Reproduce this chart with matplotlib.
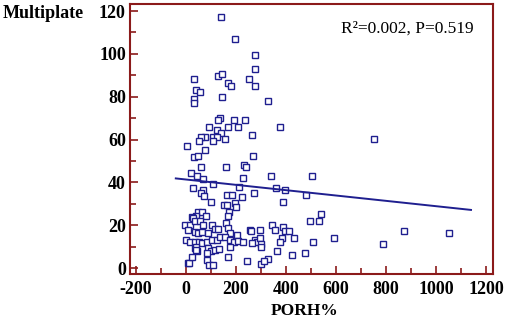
import matplotlib
matplotlib.use("Agg")
import matplotlib.pyplot as plt
from matplotlib.ticker import MultipleLocator

plt.rcParams["font.family"] = ["Liberation Serif", "DejaVu Serif"]
plt.rcParams["axes.unicode_minus"] = False

# PORH% (x) vs Multiplate (y)
porh = [
    140, 197, 277, 277, 254, 277, 32, 41, 58, 34, 32, 128, 144, 170, 182, 146,
    136, 128, 194, 237, 169, 208, 92, 125, 141, 264, 78, 60, 54, 110, 126, 108,
    158, 3, 76, 32, 48, 270, 329, 378, 752,
    61, 161, 231, 241, 20, 44, 70, 228, 341, 504,
    110, 213, 28, 68, 61, 74, 166, 183, 271, 226, 361, 397, 481, 388, 101, 151,
    166, 197, 201, 174, 48, 64, 540,
    170, 80, 41, 24, 30, -3, 17, 35, 57, 70, 104, 117, 130, 161, 170, 177, 10,
    37, 48, 64, 90, 204, 257, 297, 1, 17, 35, 51, 66, 84, 104, 124, 137, 157,
    177, 194, 210, 230, 277, 284, 266, 37, 44, 90, 101, 117, 133, 84, 177, 170,
    246, 10, 84, 94, 110, 302, 13, 24, 41, 41,
    497, 532, 346, 356, 388, 396, 412, 260, 297, 384, 431, 377, 300, 300, 508,
    593, 874, 1053, 790, 364, 477, 425, 329, 313,
]
multiplate = [
    117.1, 107.1, 99.3, 93.1, 88.3, 85.2, 88.3, 83.2, 82.2, 79, 77.2, 89.6, 90.7,
    86.3, 85.2, 80, 70.2, 69.2, 69.2, 69.2, 66, 66, 66, 64.4, 63.2, 62.3, 61.2,
    61.2, 59.2, 61.2, 61.2, 59.2, 60.2, 57, 55.2, 51.8, 52.5, 52.5, 78, 66, 60.3,
    47.2, 47.2, 48.2, 47.1, 44.3, 43.1, 41.7, 42.1, 43.2, 43.2,
    39.2, 38.1, 37.6, 36.5, 35, 33.7, 34.2, 34.2, 35.3, 33.3, 37.6, 36.5, 34.2,
    31.1, 31.1, 29.5, 29.5, 30.3, 28.4, 26.4, 26.4, 26.4, 25.3,
    24.4, 24.4, 24.4, 24.1, 23.5, 20.2, 20.2, 22.2, 22.2, 20.2, 20.2, 18.2, 18.2,
    21, 18.6, 16.3, 17.6, 17.1, 16.3, 17.1, 16.3, 15.5, 17.6, 18, 13.2, 12, 12,
    12, 11.6, 12, 13.2, 13.2, 14.4, 14.4, 13.2, 12, 12.9, 12, 13.2, 12.1, 11.6,
    9.6, 7.8, 9.3, 7.8, 8.5, 8.9, 7, 10.1, 5.4, 3.4, 2.6, 3.6, 1.5, 1.4, 1.8,
    2.3, 5.4, 10, 8.5,
    22.2, 22.2, 20.2, 18, 19.1, 17.5, 17.4, 17.4, 14.3, 14.3, 14.3, 12.3, 11.2,
    10.1, 12.3, 14.3, 17.4, 16.3, 11.2, 8.2, 7.1, 6.2, 4.3, 3.4,
]

# regression line end points
fit_x = [-40, 1140]
fit_y = [41.9, 27.2]

NAVY = "#1f1f8f"
MAROON = "#8b1a1a"

fig = plt.figure(figsize=(5.10, 3.22), dpi=100)
ax = fig.add_axes([0.2549, 0.1491, 0.7118, 0.8385])

ax.plot(porh, multiplate, "s", ms=4.2, mfc="white", mec=NAVY, mew=1.0, ls="none")
ax.plot(fit_x, fit_y, color=NAVY, lw=1.4)

ax.set_xlim(-223, 1228)
ax.set_ylim(-2.7, 123.3)
ax.xaxis.set_major_locator(MultipleLocator(200))
ax.xaxis.set_minor_locator(MultipleLocator(100))
ax.yaxis.set_major_locator(MultipleLocator(20))
ax.yaxis.set_minor_locator(MultipleLocator(10))
ax.tick_params(which="both", direction="in", color=MAROON, width=1.2,
               top=False, right=False)
ax.tick_params(which="major", length=6, labelsize=13)
ax.tick_params(axis="y", which="major", pad=3)
ax.tick_params(axis="x", which="major", pad=5)
ax.tick_params(which="minor", length=4)
for lab in ax.get_xticklabels() + ax.get_yticklabels():
    lab.set_fontweight("bold")
for sp in ax.spines.values():
    sp.set_color(MAROON)
    sp.set_linewidth(1.5)

ax.text(0.946, 0.91, "R²=0.002, P=0.519", transform=ax.transAxes,
        ha="right", va="center", fontsize=12.5)
fig.text(0.006, 0.958, "Multiplate", ha="left", va="center",
         fontsize=13, fontweight="bold")
fig.text(0.598, 0.034, "PORH%", ha="center", va="center",
         fontsize=12.5, fontweight="bold")

fig.savefig("out.png", dpi=100)
